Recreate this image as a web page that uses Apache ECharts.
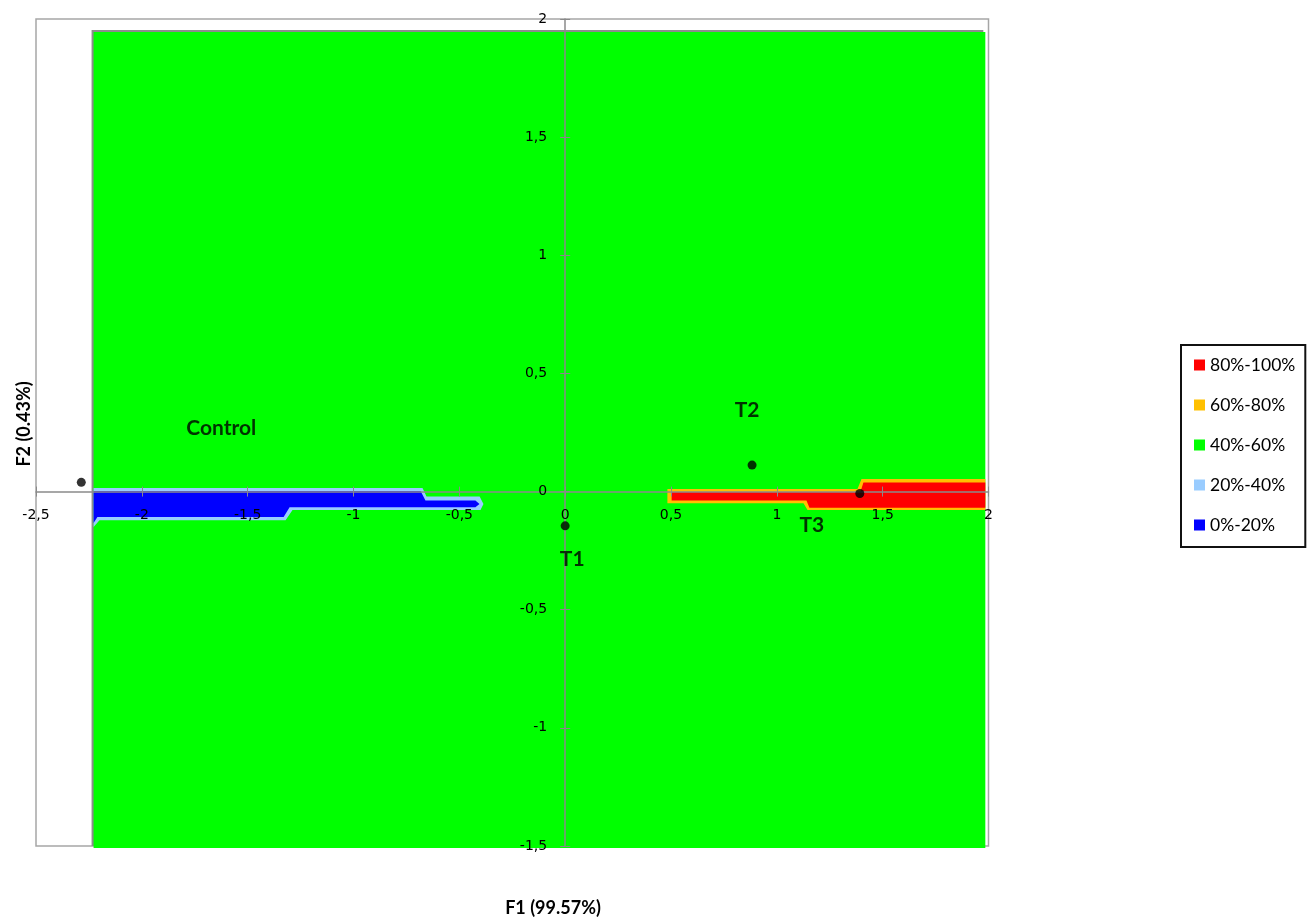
<!DOCTYPE html>
<html>
<head>
<meta charset="utf-8">
<script src="https://cdn.jsdelivr.net/npm/echarts@6/dist/echarts.min.js"></script>
<style>
html,body{margin:0;padding:0;background:#fff;}
#chart{width:1315px;height:917px;}
</style>
</head>
<body>
<div id="chart"></div>
<script>
// ---- data ----
const xRange = [-2.5, 2];
const yRange = [-1.5, 2];
const tickStep = 0.5;

const zoneNames = ['80%-100%', '60%-80%', '40%-60%', '20%-40%', '0%-20%'];

// polygons (F1, F2) of each membership zone
const greenZone = [[-2.228, 1.945], [1.985, 1.945], [1.985, -1.508], [-2.228, -1.508]];
const lightBlueZone = [[-2.228, 0.015], [-0.674, 0.015], [-0.655, -0.021], [-0.404, -0.021], [-0.386, -0.053],
  [-0.40, -0.078], [-1.288, -0.078], [-1.321, -0.121], [-2.20, -0.121], [-2.228, -0.150]];
const blueZone = [[-2.228, 0.002], [-0.683, 0.002], [-0.66, -0.038], [-0.424, -0.038], [-0.405, -0.053],
  [-0.424, -0.066], [-1.302, -0.066], [-1.33, -0.108], [-2.21, -0.108], [-2.228, -0.133]];
const yellowZone = [[0.483, 0.011], [1.381, 0.011], [1.40, 0.053], [1.985, 0.053], [1.985, -0.078],
  [1.145, -0.078], [1.126, -0.049], [0.483, -0.049]];
const redZone = [[0.503, -0.002], [1.395, -0.002], [1.409, 0.038], [1.985, 0.038], [1.985, -0.068],
  [1.154, -0.068], [1.14, -0.038], [0.503, -0.038]];

const pointNames = ['Control', 'T1', 'T2', 'T3'];
const pointF1 = [-2.286, 0.0, 0.883, 1.392];
const pointF2 = [0.039, -0.145, 0.112, -0.008];

// ---- layout & styles ----
const gridBox = {left: 36, top: 19, right: 326.5, bottom: 71};
const chartW = 1315, chartH = 917;
const gridW = chartW - gridBox.left - gridBox.right;
const gridH = chartH - gridBox.top - gridBox.bottom;
// place the axes through the origin (crossing at 0,0)
const xAxisOffset = -((0 - yRange[0]) / (yRange[1] - yRange[0])) * gridH;
const yAxisOffset = -((0 - xRange[0]) / (xRange[1] - xRange[0])) * gridW;

const labelOffsets = {Control: [140, -54], T1: [7, 33], T2: [-5, -55], T3: [-48, 32]};
const zoneColors = {
  '80%-100%': '#ff0000', '60%-80%': '#ffc000', '40%-60%': '#00ff00',
  '20%-40%': '#99ccff', '0%-20%': '#0000ff'
};
const zonePolys = {
  '40%-60%': greenZone, '20%-40%': lightBlueZone, '0%-20%': blueZone,
  '60%-80%': yellowZone, '80%-100%': redZone
};
const drawOrder = ['40%-60%', '20%-40%', '0%-20%', '60%-80%', '80%-100%'];

const fmt = v => String(v).replace('.', ',');
const axisGray = '#8a8a8a';

function zoneSeries(name) {
  const poly = zonePolys[name];
  const isGreen = name === '40%-60%';
  return {
    type: 'custom',
    name: name,
    itemStyle: {color: zoneColors[name]},
    data: poly,
    encode: {x: 0, y: 1},
    silent: true,
    z: 1,
    renderItem: function (params, api) {
      if (params.dataIndex !== 0) return null;
      const pts = poly.map(p => api.coord(p));
      const style = {fill: zoneColors[name]};
      if (isGreen) {
        style.shadowColor = '#8c8c8c';
        style.shadowOffsetX = -2;
        style.shadowOffsetY = -2;
        style.shadowBlur = 0;
      }
      return {type: 'polygon', shape: {points: pts}, style: style};
    }
  };
}

const chart = echarts.init(document.getElementById('chart'), null, {renderer: 'canvas'});

function mainAxis(range, position, offset, margin) {
  return {
    type: 'value', min: range[0], max: range[1], interval: tickStep, position: position,
    offset: offset, z: 3,
    splitLine: {show: false},
    axisLine: {onZero: false, lineStyle: {color: axisGray, width: 1.5}},
    axisTick: {show: true, length: 5, lineStyle: {color: axisGray, width: 1}},
    axisLabel: {formatter: fmt, margin: margin, color: '#000', fontFamily: 'DejaVu Sans', fontSize: 14,
      showMinLabel: true, showMaxLabel: true}
  };
}
function tickAxis(range, position, offset) {
  // companion axis drawing the inner half of the crossing tick marks
  return {
    type: 'value', min: range[0], max: range[1], interval: tickStep, position: position,
    offset: offset, z: 3,
    splitLine: {show: false},
    axisLine: {show: false, onZero: false},
    axisTick: {show: true, inside: true, length: 5, lineStyle: {color: axisGray, width: 1}},
    axisLabel: {show: false}
  };
}

const option = {
  animation: false,
  backgroundColor: '#ffffff',
  grid: Object.assign({show: true, containLabel: false, outerBoundsMode: 'none',
    borderColor: '#a6a6a6', borderWidth: 1.5, backgroundColor: 'transparent'}, gridBox),
  xAxis: [mainAxis(xRange, 'bottom', xAxisOffset, 17), tickAxis(xRange, 'bottom', xAxisOffset)],
  yAxis: [mainAxis(yRange, 'left', yAxisOffset, 18), tickAxis(yRange, 'left', yAxisOffset)],
  legend: {
    data: zoneNames,
    orient: 'vertical',
    left: 1181, top: 345,
    padding: [11, 10, 13, 13],
    itemGap: 22,
    itemWidth: 11, itemHeight: 11,
    icon: 'rect',
    borderColor: '#111', borderWidth: 2,
    backgroundColor: '#fff',
    selectedMode: false,
    textStyle: {fontFamily: 'Lato', fontSize: 17.5, color: '#000', lineHeight: 18}
  },
  series: drawOrder.map(zoneSeries).concat([{
    type: 'scatter',
    name: 'points',
    symbolSize: 9,
    itemStyle: {color: '#000'},
    z: 5,
    data: pointNames.map((n, i) => ({
      name: n, value: [pointF1[i], pointF2[i]],
      label: {show: true, formatter: n, position: 'inside', offset: labelOffsets[n]}
    })),
    label: {color: '#000', fontFamily: 'Lato', fontWeight: 'bold', fontSize: 21}
  }]),
  graphic: [
    {type: 'text', x: 553, y: 908,
      style: {text: 'F1 (99.57%)', font: 'bold 18px Lato', fill: '#000', align: 'center', verticalAlign: 'middle'}},
    {type: 'text', x: 24, y: 424, rotation: Math.PI / 2,
      style: {text: 'F2 (0.43%)', font: 'bold 18px Lato', fill: '#000', align: 'center', verticalAlign: 'middle'}}
  ]
};
chart.setOption(option);
</script>
</body>
</html>
